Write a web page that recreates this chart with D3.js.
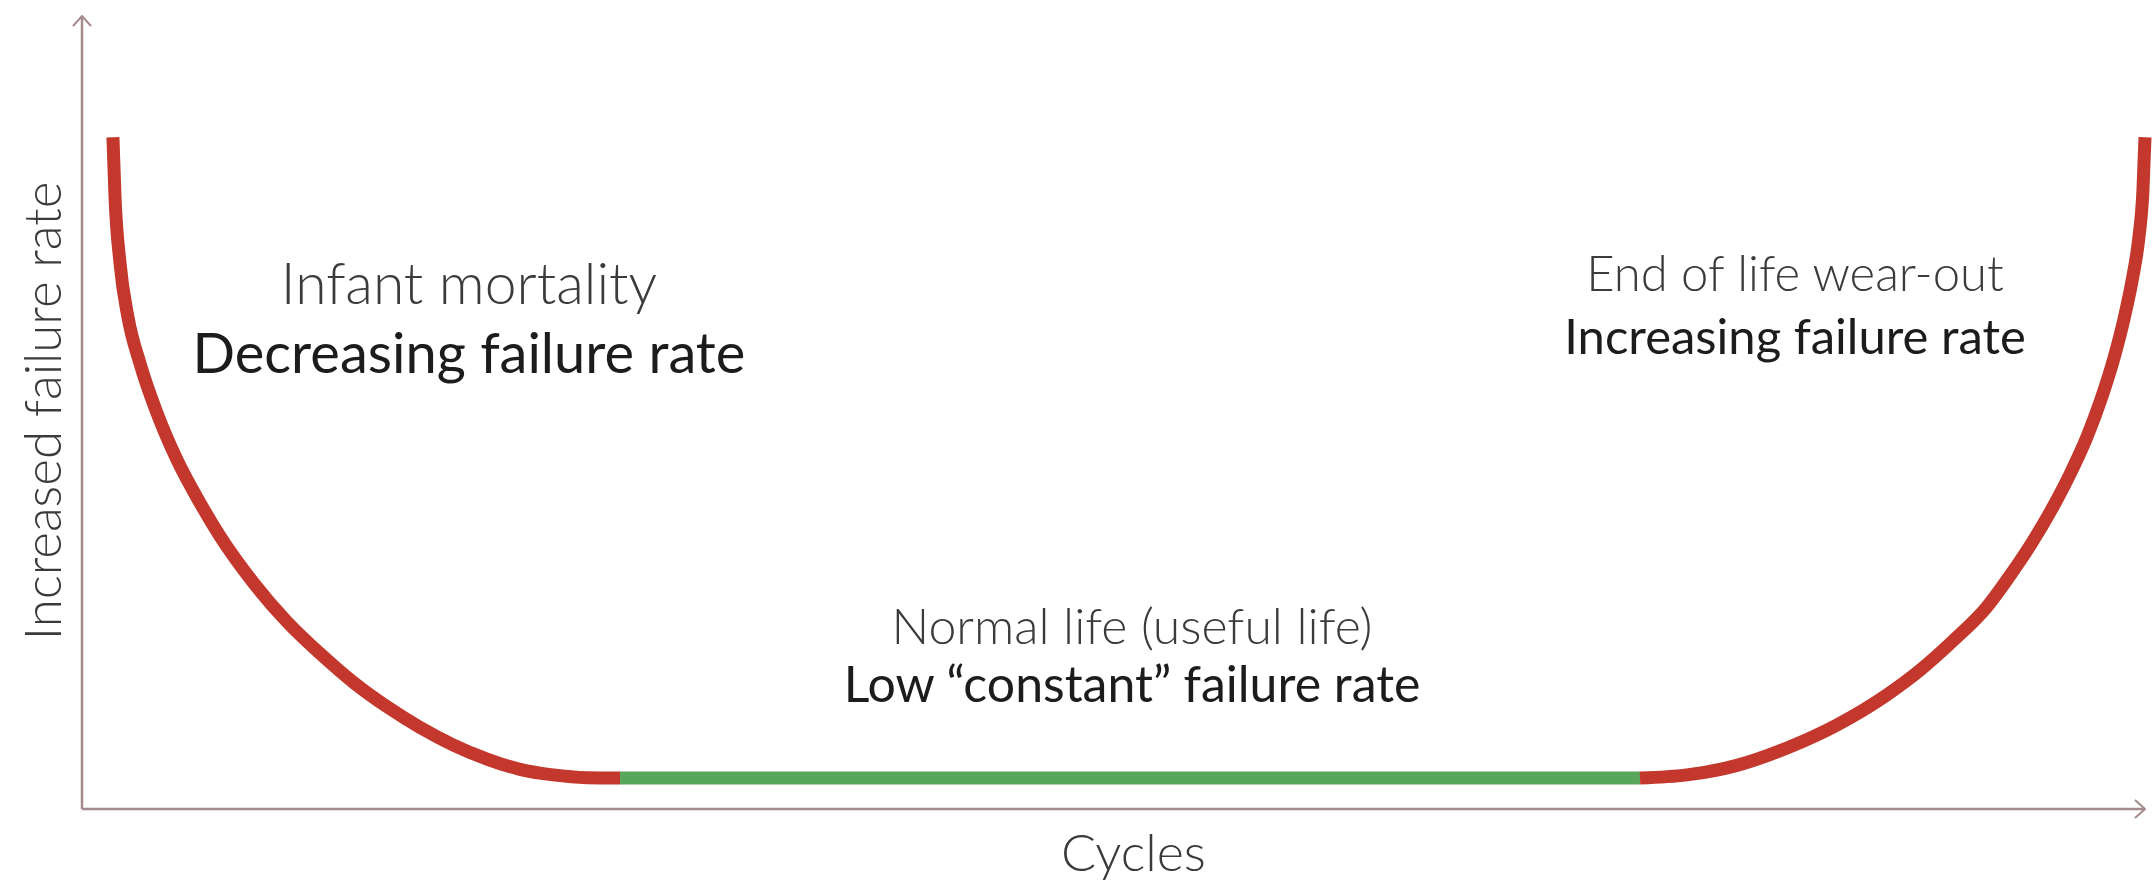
<!DOCTYPE html>
<html>
<head>
<meta charset="utf-8">
<script src="https://cdn.jsdelivr.net/npm/d3@7"></script>
<style>
  body { margin: 0; background: #fff; }
  svg { display: block; }
  text { font-family: Lato, "Open Sans", sans-serif; }
  .axis-line { stroke: #a58a8e; stroke-width: 2.5; fill: none; }
  .phase { fill: none; stroke-width: 13; stroke-linecap: butt; }
  .lbl-top { fill: #3b3b3b; font-weight: 300; }
  .lbl-bot { fill: #1c1c1c; font-weight: 400; }
  .axis-title { fill: #3a3a3a; font-weight: 300; }
</style>
</head>
<body>
<script>
// bathtub curve (cycles 0-100, failure rate 0-100)
var infantCycles = [1.5, 1.6, 1.84, 2.23, 2.81, 3.64, 4.61, 5.72, 6.69, 8.29, 9.94, 11.54, 13.14, 14.78, 16.38, 17.98, 19.63, 21.23, 22.83, 24.48, 26.08];
var infantRate   = [84.7, 77.2, 68.9, 62.0, 56.2, 49.9, 44.0, 38.6, 34.4, 28.6, 23.6, 19.6, 16.0, 12.9, 10.3, 8.1, 6.3, 5.0, 4.3, 3.95, 3.9];

var normalCycles = [26.08, 75.52];
var normalRate   = [3.9, 3.9];

var wearCycles = [75.52, 77.8, 80.22, 82.65, 85.07, 87.49, 89.09, 90.69, 92.34, 93.5, 94.5, 95.5, 96.4, 97.2, 97.9, 98.5, 99.0, 99.4, 99.7, 99.9, 100];
var wearRate   = [3.9, 4.3, 5.5, 7.7, 10.6, 14.4, 17.5, 21.2, 25.5, 29.6, 33.5, 37.9, 42.4, 47.0, 51.9, 56.9, 62.0, 67.0, 72.0, 78.0, 84.7];

var phaseNames  = ["Infant mortality", "Normal life (useful life)", "End of life wear-out"];
var phaseRates  = ["Decreasing failure rate", "Low \u201cconstant\u201d failure rate", "Increasing failure rate"];
var phaseColors = ["#c4372c", "#58a55c", "#c4372c"];

var xTitle = "Cycles";
var yTitle = "Increased failure rate";

var width = 2152, height = 885;

var x = d3.scaleLinear().domain([0, 100]).range([82, 2145]);
var y = d3.scaleLinear().domain([0, 100]).range([809, 16]);

var svg = d3.select("body").append("svg")
  .attr("width", width)
  .attr("height", height);

var defs = svg.append("defs");
defs.append("marker")
  .attr("id", "arrow")
  .attr("viewBox", "0 0 12 20")
  .attr("refX", 11)
  .attr("refY", 10)
  .attr("markerWidth", 12)
  .attr("markerHeight", 20)
  .attr("markerUnits", "userSpaceOnUse")
  .attr("orient", "auto")
  .append("path")
  .attr("d", "M1,1 L11,10 L1,19")
  .attr("fill", "none")
  .attr("stroke", "#a58a8e")
  .attr("stroke-width", 2);

// axes
svg.append("line")
  .attr("class", "axis-line")
  .attr("x1", x(0)).attr("y1", y(0))
  .attr("x2", x(0)).attr("y2", y(100))
  .attr("marker-end", "url(#arrow)");

svg.append("line")
  .attr("class", "axis-line")
  .attr("x1", x(0)).attr("y1", y(0))
  .attr("x2", x(100)).attr("y2", y(0))
  .attr("marker-end", "url(#arrow)");

svg.append("text")
  .attr("class", "axis-title")
  .attr("x", (x(0) + x(100)) / 2 + 20)
  .attr("y", 871)
  .attr("text-anchor", "middle")
  .attr("font-size", 52)
  .text(xTitle);

svg.append("text")
  .attr("class", "axis-title")
  .attr("transform", "translate(61," + 411 + ") rotate(-90)")
  .attr("text-anchor", "middle")
  .attr("font-size", 51)
  .text(yTitle);

// phases of the curve
var segments = [
  {cx: infantCycles, r: infantRate},
  {cx: normalCycles, r: normalRate},
  {cx: wearCycles, r: wearRate}
];

var line = d3.line()
  .x(function(d) { return x(d[0]); })
  .y(function(d) { return y(d[1]); })
  .curve(d3.curveMonotoneX);

svg.selectAll(".phase")
  .data(segments)
  .enter().append("path")
  .attr("class", "phase")
  .attr("stroke", function(d, i) { return phaseColors[i]; })
  .attr("d", function(d) {
    return line(d.cx.map(function(c, j) { return [c, d.r[j]]; }));
  });

// labels
var labelPos = [
  {x: 469, y1: 304, y2: 373, s1: 57, s2: 56},
  {x: 1132, y1: 644, y2: 702, s1: 50, s2: 50},
  {x: 1795, y1: 291, y2: 354, s1: 49, s2: 49}
];

labelPos.forEach(function(p, i) {
  svg.append("text")
    .attr("class", "lbl-top")
    .attr("x", p.x).attr("y", p.y1)
    .attr("text-anchor", "middle")
    .attr("font-size", p.s1)
    .text(phaseNames[i]);
  svg.append("text")
    .attr("class", "lbl-bot")
    .attr("x", p.x).attr("y", p.y2)
    .attr("text-anchor", "middle")
    .attr("font-size", p.s2)
    .text(phaseRates[i]);
});
</script>
</body>
</html>
